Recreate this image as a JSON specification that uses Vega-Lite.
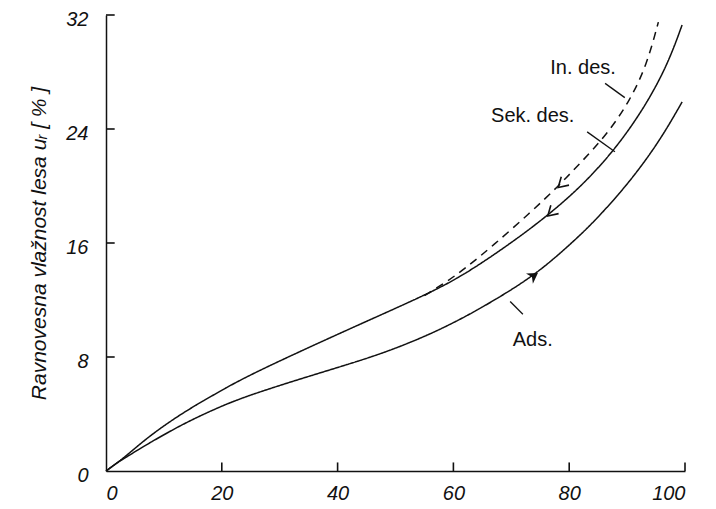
{
  "$schema": "https://vega.github.io/schema/vega-lite/v6.json",
  "width": 579,
  "height": 456,
  "autosize": {"type": "none"},
  "padding": {"left": 106, "top": 15, "right": 31, "bottom": 38},
  "background": "white",
  "config": {
    "view": {"stroke": null},
    "font": "Liberation Sans",
    "axis": {
      "grid": false,
      "ticks": false,
      "domainColor": "#111",
      "domainWidth": 1.5,
      "labelFont": "Liberation Sans",
      "labelFontStyle": "italic",
      "labelFontSize": 20,
      "labelColor": "#111",
      "titleFont": "Liberation Sans",
      "titleFontStyle": "italic",
      "titleFontWeight": "normal",
      "titleFontSize": 21,
      "titleColor": "#111"
    }
  },
  "datasets": {
    "curves": [
      {"series": "Sek. des.", "x": 0, "y": 0},
      {"series": "Sek. des.", "x": 2, "y": 0.6},
      {"series": "Sek. des.", "x": 3.6, "y": 1.1},
      {"series": "Sek. des.", "x": 7.6, "y": 2.5},
      {"series": "Sek. des.", "x": 13.3, "y": 4.1},
      {"series": "Sek. des.", "x": 18, "y": 5.2},
      {"series": "Sek. des.", "x": 23.1, "y": 6.4},
      {"series": "Sek. des.", "x": 33, "y": 8.3},
      {"series": "Sek. des.", "x": 44.4, "y": 10.4},
      {"series": "Sek. des.", "x": 56, "y": 12.5},
      {"series": "Sek. des.", "x": 62, "y": 13.8},
      {"series": "Sek. des.", "x": 70, "y": 16.0},
      {"series": "Sek. des.", "x": 76.2, "y": 17.9},
      {"series": "Sek. des.", "x": 81.9, "y": 19.9},
      {"series": "Sek. des.", "x": 87.6, "y": 22.4},
      {"series": "Sek. des.", "x": 92.7, "y": 25.3},
      {"series": "Sek. des.", "x": 96.9, "y": 28.4},
      {"series": "Sek. des.", "x": 99.5, "y": 31.3},
      {"series": "In. des.", "x": 55, "y": 12.3},
      {"series": "In. des.", "x": 58.9, "y": 13.3},
      {"series": "In. des.", "x": 62, "y": 14.2},
      {"series": "In. des.", "x": 66.8, "y": 15.8},
      {"series": "In. des.", "x": 73.2, "y": 18.1},
      {"series": "In. des.", "x": 77.9, "y": 19.9},
      {"series": "In. des.", "x": 81.9, "y": 21.6},
      {"series": "In. des.", "x": 86.5, "y": 23.6},
      {"series": "In. des.", "x": 90.5, "y": 26.0},
      {"series": "In. des.", "x": 93.4, "y": 28.5},
      {"series": "In. des.", "x": 95.4, "y": 31.5},
      {"series": "Ads.", "x": 0, "y": 0},
      {"series": "Ads.", "x": 2, "y": 0.6},
      {"series": "Ads.", "x": 3.6, "y": 1.0},
      {"series": "Ads.", "x": 7.6, "y": 2.0},
      {"series": "Ads.", "x": 13.3, "y": 3.3},
      {"series": "Ads.", "x": 18, "y": 4.2},
      {"series": "Ads.", "x": 23.1, "y": 5.1},
      {"series": "Ads.", "x": 33, "y": 6.4},
      {"series": "Ads.", "x": 44.4, "y": 7.8},
      {"series": "Ads.", "x": 50, "y": 8.6},
      {"series": "Ads.", "x": 56, "y": 9.6},
      {"series": "Ads.", "x": 62, "y": 10.8},
      {"series": "Ads.", "x": 68, "y": 12.2},
      {"series": "Ads.", "x": 74.6, "y": 13.9},
      {"series": "Ads.", "x": 81, "y": 16.2},
      {"series": "Ads.", "x": 84.8, "y": 17.7},
      {"series": "Ads.", "x": 90.5, "y": 20.3},
      {"series": "Ads.", "x": 95.7, "y": 23.2},
      {"series": "Ads.", "x": 99.5, "y": 25.9}
    ],
    "labels": [
      {"text": "In. des.", "x": 82.4, "y": 28.3},
      {"text": "Sek. des.", "x": 73.7, "y": 24.9},
      {"text": "Ads.", "x": 73.7, "y": 9.2}
    ],
    "leaders": [
      {"x": 86.2, "y": 27.2, "x2": 89.6, "y2": 26.2},
      {"x": 83.1, "y": 23.8, "x2": 87.9, "y2": 22.4},
      {"x": 69.8, "y": 11.9, "x2": 72.0, "y2": 11.0}
    ],
    "arrowsDown": [
      {"x": 78.1, "y": 19.9},
      {"x": 76.3, "y": 17.9}
    ],
    "arrowsUp": [
      {"x": 74.6, "y": 13.9}
    ],
    "xticks": [{"v": 20}, {"v": 40}, {"v": 60}, {"v": 80}, {"v": 100}],
    "yticks": [{"v": 8}, {"v": 16}, {"v": 24}, {"v": 32}]
  },
  "layer": [
    {
      "data": {"name": "curves"},
      "mark": {"type": "line", "interpolate": "basis", "color": "#111", "strokeWidth": 1.5},
      "encoding": {
        "x": {"field": "x", "type": "quantitative",
              "scale": {"domain": [0, 100], "nice": false},
              "axis": {"values": [0, 20, 40, 60, 80, 100], "title": null, "labelPadding": 12}},
        "y": {"field": "y", "type": "quantitative",
              "scale": {"domain": [0, 32], "nice": false},
              "axis": {"values": [0, 8, 16, 24, 32], "title": "Ravnovesna vlažnost lesa uᵣ [ % ]", "labelPadding": 18, "labelOffset": 4, "titlePadding": 16}},
        "detail": {"field": "series"},
        "strokeDash": {"field": "series", "type": "nominal",
                       "scale": {"domain": ["Ads.", "Sek. des.", "In. des."], "range": [[1, 0], [1, 0], [8, 6]]},
                       "legend": null}
      }
    },
    {
      "data": {"name": "xticks"},
      "mark": {"type": "rule", "color": "#111", "strokeWidth": 1.6},
      "encoding": {
        "x": {"field": "v", "type": "quantitative"},
        "y": {"datum": 0, "type": "quantitative"},
        "y2": {"datum": 0.6}
      }
    },
    {
      "data": {"name": "yticks"},
      "mark": {"type": "rule", "color": "#111", "strokeWidth": 1.6},
      "encoding": {
        "y": {"field": "v", "type": "quantitative"},
        "x": {"datum": 0, "type": "quantitative"},
        "x2": {"datum": 1.5}
      }
    },
    {
      "data": {"name": "leaders"},
      "mark": {"type": "rule", "color": "#111", "strokeWidth": 1.3},
      "encoding": {
        "x": {"field": "x", "type": "quantitative"},
        "y": {"field": "y", "type": "quantitative"},
        "x2": {"field": "x2"},
        "y2": {"field": "y2"}
      }
    },
    {
      "data": {"name": "labels"},
      "mark": {"type": "text", "font": "Liberation Sans", "fontSize": 20, "color": "#111", "align": "center", "baseline": "middle"},
      "encoding": {
        "x": {"field": "x", "type": "quantitative"},
        "y": {"field": "y", "type": "quantitative"},
        "text": {"field": "text"}
      }
    },
    {
      "data": {"name": "arrowsDown"},
      "mark": {"type": "point", "shape": "M-1,-0.6L0,0L-1,0.6", "filled": false, "stroke": "#111", "strokeWidth": 1.6, "size": 360, "angle": 137, "opacity": 1},
      "encoding": {
        "x": {"field": "x", "type": "quantitative"},
        "y": {"field": "y", "type": "quantitative"}
      }
    },
    {
      "data": {"name": "arrowsUp"},
      "mark": {"type": "point", "shape": "M-1,-0.6L0,0L-1,0.6L-0.7,0Z", "filled": true, "color": "#111", "size": 420, "angle": 326, "opacity": 1},
      "encoding": {
        "x": {"field": "x", "type": "quantitative"},
        "y": {"field": "y", "type": "quantitative"}
      }
    }
  ]
}
